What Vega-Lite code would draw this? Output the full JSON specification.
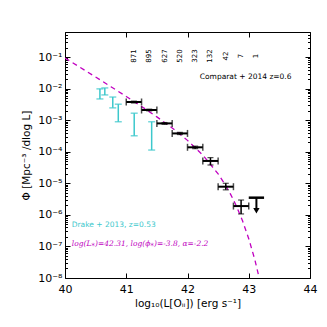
{
  "$schema": "https://vega.github.io/schema/vega-lite/v6.json",
  "width": 245,
  "height": 246,
  "autosize": {"type": "none"},
  "padding": {"left": 65, "top": 32, "right": 17, "bottom": 49},
  "background": "white",
  "config": {
    "view": {"stroke": "black", "strokeWidth": 1},
    "font": "DejaVu Sans",
    "axis": {"grid": false, "domain": false, "labelFlush": false, "tickColor": "black", "labelColor": "black", "titleColor": "black", "labelFont": "DejaVu Sans", "titleFont": "DejaVu Sans", "titleFontWeight": "normal", "labelFontSize": 11, "titleFontSize": 10.5}
  },
  "datasets": {
    "schechter": [
      {"L": 40.0, "phi": 0.0933}, {"L": 40.25, "phi": 0.0466}, {"L": 40.5, "phi": 0.0232}, {"L": 40.75, "phi": 0.01148},
      {"L": 41.0, "phi": 0.00564}, {"L": 41.25, "phi": 0.00272}, {"L": 41.5, "phi": 0.00127}, {"L": 41.75, "phi": 0.000565},
      {"L": 42.0, "phi": 0.000229}, {"L": 42.25, "phi": 7.83e-5}, {"L": 42.5, "phi": 1.99e-5}, {"L": 42.6, "phi": 1.01e-5},
      {"L": 42.7, "phi": 4.63e-6}, {"L": 42.75, "phi": 2.99e-6}, {"L": 42.8, "phi": 1.86e-6}, {"L": 42.9, "phi": 6.35e-7},
      {"L": 43.0, "phi": 1.76e-7}, {"L": 43.1, "phi": 3.75e-8}, {"L": 43.2, "phi": 5.77e-9}
    ],
    "comparat": [
      {"L": 41.125, "Llo": 41.0, "Lhi": 41.25, "phi": 3.76e-3, "lo": 3.5e-3, "hi": 4.0e-3},
      {"L": 41.375, "Llo": 41.25, "Lhi": 41.5, "phi": 2.1e-3, "lo": 1.97e-3, "hi": 2.23e-3},
      {"L": 41.625, "Llo": 41.5, "Lhi": 41.75, "phi": 7.9e-4, "lo": 7.4e-4, "hi": 8.4e-4},
      {"L": 41.875, "Llo": 41.75, "Lhi": 42.0, "phi": 3.8e-4, "lo": 3.5e-4, "hi": 4.1e-4},
      {"L": 42.125, "Llo": 42.0, "Lhi": 42.25, "phi": 1.38e-4, "lo": 1.25e-4, "hi": 1.5e-4},
      {"L": 42.375, "Llo": 42.25, "Lhi": 42.5, "phi": 5.1e-5, "lo": 3.8e-5, "hi": 6.5e-5},
      {"L": 42.625, "Llo": 42.5, "Lhi": 42.75, "phi": 7.8e-6, "lo": 6.2e-6, "hi": 1.0e-5},
      {"L": 42.875, "Llo": 42.75, "Lhi": 43.0, "phi": 1.9e-6, "lo": 1.07e-6, "hi": 2.95e-6}
    ],
    "limit": [
      {"L": 43.125, "Llo": 43.0, "Lhi": 43.25, "phi": 3.5e-6, "end": 1.5e-6, "tip": 1.35e-6}
    ],
    "counts": [
      {"L": 41.125, "n": "871"}, {"L": 41.375, "n": "895"}, {"L": 41.625, "n": "627"},
      {"L": 41.875, "n": "520"}, {"L": 42.125, "n": "323"}, {"L": 42.375, "n": "132"},
      {"L": 42.625, "n": "42"}, {"L": 42.875, "n": "7"}, {"L": 43.125, "n": "1"}
    ],
    "drake": [
      {"L": 40.57, "lo": 4.7e-3, "hi": 9.8e-3},
      {"L": 40.65, "lo": 6.3e-3, "hi": 1.05e-2},
      {"L": 40.78, "lo": 2.45e-3, "hi": 5.4e-3},
      {"L": 40.87, "lo": 8.9e-4, "hi": 3.2e-3},
      {"L": 41.13, "lo": 3.2e-4, "hi": 1.66e-3},
      {"L": 41.415, "lo": 1.13e-4, "hi": 8.9e-4}
    ]
  },
  "resolve": {"axis": {"x": "independent", "y": "independent"}},
  "layer": [
    {
      "data": {"name": "schechter"},
      "mark": {"type": "line", "color": "#c000c0", "strokeDash": [5, 4], "strokeWidth": 1.3, "clip": true},
      "encoding": {
        "x": {"field": "L", "type": "quantitative", "scale": {"domain": [40, 44], "nice": false, "zero": false},
          "axis": {"orient": "bottom", "values": [40, 41, 42, 43, 44], "format": "d", "tickSize": -5, "labelPadding": 10, "title": "log₁₀(L[Oᵢᵢ]) [erg s⁻¹]", "titlePadding": 4}},
        "y": {"field": "phi", "type": "quantitative", "scale": {"type": "log", "domain": [1e-8, 0.62], "nice": false},
          "axis": {"orient": "left", "values": [1e-8, 2e-8, 3e-8, 4e-8, 5e-8, 6e-8, 7e-8, 8e-8, 9e-8, 1e-7, 2e-7, 3e-7, 4e-7, 5e-7, 6e-7, 7e-7, 8e-7, 9e-7, 1e-6, 2e-6, 3e-6, 4e-6, 5e-6, 6e-6, 7e-6, 8e-6, 9e-6, 1e-5, 2e-5, 3e-5, 4e-5, 5e-5, 6e-5, 7e-5, 8e-5, 9e-5, 1e-4, 2e-4, 3e-4, 4e-4, 5e-4, 6e-4, 7e-4, 8e-4, 9e-4, 1e-3, 2e-3, 3e-3, 4e-3, 5e-3, 6e-3, 7e-3, 8e-3, 9e-3, 1e-2, 2e-2, 3e-2, 4e-2, 5e-2, 6e-2, 7e-2, 8e-2, 9e-2, 0.1, 0.2, 0.3, 0.4, 0.5, 0.6],
            "tickSize": {"condition": {"test": "abs(log(datum.value)/LN10 - round(log(datum.value)/LN10)) < 0.001", "value": -5}, "value": -2.5},
            "labelExpr": "abs(log(datum.value)/LN10 - round(log(datum.value)/LN10)) < 0.001 ? '10⁻' + ['⁰','¹','²','³','⁴','⁵','⁶','⁷','⁸','⁹'][round(-log(datum.value)/LN10)] : ''",
            "labelPadding": 8, "labelFontSize": 11, "title": "Φ [Mpc⁻³ /dlog L]", "titlePadding": 6}}
      }
    },
    {
      "data": {"name": "schechter"},
      "mark": {"type": "point", "opacity": 0},
      "encoding": {
        "x": {"field": "L", "type": "quantitative", "scale": {"domain": [40, 44], "nice": false, "zero": false},
          "axis": {"orient": "top", "values": [40, 41, 42, 43, 44], "labels": false, "tickSize": -5, "title": null}},
        "y": {"field": "phi", "type": "quantitative", "scale": {"type": "log", "domain": [1e-8, 0.62], "nice": false},
          "axis": {"orient": "right", "values": [1e-8, 2e-8, 3e-8, 4e-8, 5e-8, 6e-8, 7e-8, 8e-8, 9e-8, 1e-7, 2e-7, 3e-7, 4e-7, 5e-7, 6e-7, 7e-7, 8e-7, 9e-7, 1e-6, 2e-6, 3e-6, 4e-6, 5e-6, 6e-6, 7e-6, 8e-6, 9e-6, 1e-5, 2e-5, 3e-5, 4e-5, 5e-5, 6e-5, 7e-5, 8e-5, 9e-5, 1e-4, 2e-4, 3e-4, 4e-4, 5e-4, 6e-4, 7e-4, 8e-4, 9e-4, 1e-3, 2e-3, 3e-3, 4e-3, 5e-3, 6e-3, 7e-3, 8e-3, 9e-3, 1e-2, 2e-2, 3e-2, 4e-2, 5e-2, 6e-2, 7e-2, 8e-2, 9e-2, 0.1, 0.2, 0.3, 0.4, 0.5, 0.6],
            "tickSize": {"condition": {"test": "abs(log(datum.value)/LN10 - round(log(datum.value)/LN10)) < 0.001", "value": -5}, "value": -2.5},
            "labels": false, "title": null}}
      }
    },
    {
      "data": {"name": "drake"},
      "mark": {"type": "rule", "color": "#3cc8cc", "strokeWidth": 1.5},
      "encoding": {
        "x": {"field": "L", "type": "quantitative", "scale": {"domain": [40, 44], "nice": false, "zero": false}, "axis": null},
        "y": {"field": "lo", "type": "quantitative", "scale": {"type": "log", "domain": [1e-8, 0.62], "nice": false}, "axis": null},
        "y2": {"field": "hi"}
      }
    },
    {
      "data": {"name": "drake"},
      "transform": [{"fold": ["lo", "hi"], "as": ["k", "v"]}],
      "mark": {"type": "tick", "orient": "horizontal", "color": "#3cc8cc", "size": 7, "thickness": 1.5},
      "encoding": {
        "x": {"field": "L", "type": "quantitative", "scale": {"domain": [40, 44], "nice": false, "zero": false}, "axis": null},
        "y": {"field": "v", "type": "quantitative", "scale": {"type": "log", "domain": [1e-8, 0.62], "nice": false}, "axis": null}
      }
    },
    {
      "data": {"name": "comparat"},
      "mark": {"type": "rule", "color": "black", "strokeWidth": 2},
      "encoding": {
        "x": {"field": "Llo", "type": "quantitative", "scale": {"domain": [40, 44], "nice": false, "zero": false}, "axis": null},
        "x2": {"field": "Lhi"},
        "y": {"field": "phi", "type": "quantitative", "scale": {"type": "log", "domain": [1e-8, 0.62], "nice": false}, "axis": null}
      }
    },
    {
      "data": {"name": "comparat"},
      "transform": [{"fold": ["Llo", "Lhi"], "as": ["k", "v"]}],
      "mark": {"type": "tick", "orient": "vertical", "color": "black", "size": 7, "thickness": 1.5},
      "encoding": {
        "x": {"field": "v", "type": "quantitative", "scale": {"domain": [40, 44], "nice": false, "zero": false}, "axis": null},
        "y": {"field": "phi", "type": "quantitative", "scale": {"type": "log", "domain": [1e-8, 0.62], "nice": false}, "axis": null}
      }
    },
    {
      "data": {"name": "comparat"},
      "mark": {"type": "rule", "color": "black", "strokeWidth": 1.5},
      "encoding": {
        "x": {"field": "L", "type": "quantitative", "scale": {"domain": [40, 44], "nice": false, "zero": false}, "axis": null},
        "y": {"field": "lo", "type": "quantitative", "scale": {"type": "log", "domain": [1e-8, 0.62], "nice": false}, "axis": null},
        "y2": {"field": "hi"}
      }
    },
    {
      "data": {"name": "comparat"},
      "transform": [{"fold": ["lo", "hi"], "as": ["k", "v"]}],
      "mark": {"type": "tick", "orient": "horizontal", "color": "black", "size": 6, "thickness": 1.2},
      "encoding": {
        "x": {"field": "L", "type": "quantitative", "scale": {"domain": [40, 44], "nice": false, "zero": false}, "axis": null},
        "y": {"field": "v", "type": "quantitative", "scale": {"type": "log", "domain": [1e-8, 0.62], "nice": false}, "axis": null}
      }
    },
    {
      "data": {"name": "limit"},
      "mark": {"type": "rule", "color": "black", "strokeWidth": 2.5},
      "encoding": {
        "x": {"field": "Llo", "type": "quantitative", "scale": {"domain": [40, 44], "nice": false, "zero": false}, "axis": null},
        "x2": {"field": "Lhi"},
        "y": {"field": "phi", "type": "quantitative", "scale": {"type": "log", "domain": [1e-8, 0.62], "nice": false}, "axis": null}
      }
    },
    {
      "data": {"name": "limit"},
      "mark": {"type": "rule", "color": "black", "strokeWidth": 2},
      "encoding": {
        "x": {"field": "L", "type": "quantitative", "scale": {"domain": [40, 44], "nice": false, "zero": false}, "axis": null},
        "y": {"field": "phi", "type": "quantitative", "scale": {"type": "log", "domain": [1e-8, 0.62], "nice": false}, "axis": null},
        "y2": {"field": "end"}
      }
    },
    {
      "data": {"name": "limit"},
      "mark": {"type": "point", "shape": "triangle-down", "filled": true, "color": "black", "size": 40, "opacity": 1},
      "encoding": {
        "x": {"field": "L", "type": "quantitative", "scale": {"domain": [40, 44], "nice": false, "zero": false}, "axis": null},
        "y": {"field": "tip", "type": "quantitative", "scale": {"type": "log", "domain": [1e-8, 0.62], "nice": false}, "axis": null}
      }
    },
    {
      "data": {"name": "counts"},
      "mark": {"type": "text", "angle": 270, "fontSize": 7, "color": "black", "align": "center", "baseline": "middle"},
      "encoding": {
        "x": {"field": "L", "type": "quantitative", "scale": {"domain": [40, 44], "nice": false, "zero": false}, "axis": null},
        "y": {"datum": 0.107, "type": "quantitative", "scale": {"type": "log", "domain": [1e-8, 0.62], "nice": false}, "axis": null},
        "text": {"field": "n"}
      }
    },
    {
      "data": {"values": [
        {"L": 42.2, "phi": 0.0233, "txt": "Comparat + 2014 z=0.6"}
      ]},
      "mark": {"type": "text", "fontSize": 7.5, "align": "left", "baseline": "middle", "color": "black"},
      "encoding": {
        "x": {"field": "L", "type": "quantitative", "scale": {"domain": [40, 44], "nice": false, "zero": false}, "axis": null},
        "y": {"field": "phi", "type": "quantitative", "scale": {"type": "log", "domain": [1e-8, 0.62], "nice": false}, "axis": null},
        "text": {"field": "txt"}
      }
    },
    {
      "data": {"values": [
        {"L": 40.11, "phi": 4.8e-7, "txt": "Drake + 2013, z=0.53"}
      ]},
      "mark": {"type": "text", "fontSize": 7.5, "align": "left", "baseline": "middle", "color": "#3cc8cc"},
      "encoding": {
        "x": {"field": "L", "type": "quantitative", "scale": {"domain": [40, 44], "nice": false, "zero": false}, "axis": null},
        "y": {"field": "phi", "type": "quantitative", "scale": {"type": "log", "domain": [1e-8, 0.62], "nice": false}, "axis": null},
        "text": {"field": "txt"}
      }
    },
    {
      "data": {"values": [
        {"L": 40.11, "phi": 1.2e-7, "txt": "log(L⁎)=42.31, log(ϕ⁎)=-3.8, α=-2.2"}
      ]},
      "mark": {"type": "text", "fontSize": 7.5, "align": "left", "baseline": "middle", "color": "#c000c0", "font": "DejaVu Serif", "fontStyle": "italic"},
      "encoding": {
        "x": {"field": "L", "type": "quantitative", "scale": {"domain": [40, 44], "nice": false, "zero": false}, "axis": null},
        "y": {"field": "phi", "type": "quantitative", "scale": {"type": "log", "domain": [1e-8, 0.62], "nice": false}, "axis": null},
        "text": {"field": "txt"}
      }
    }
  ]
}
